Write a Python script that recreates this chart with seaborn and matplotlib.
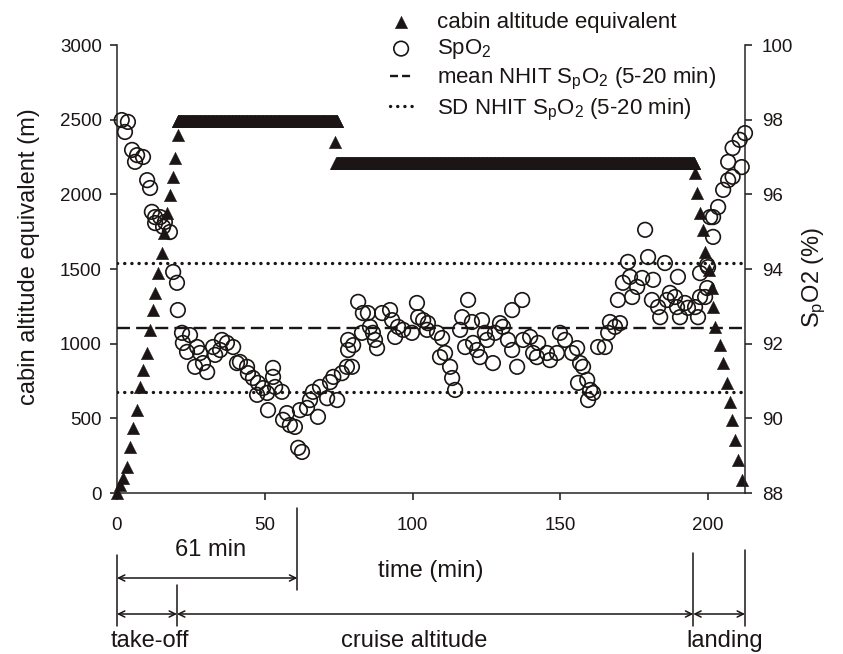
import numpy as np
import pandas as pd
import matplotlib
matplotlib.use("Agg")
import matplotlib.pyplot as plt
import matplotlib.transforms as mtransforms
from matplotlib.lines import Line2D
import seaborn as sns

# ---------------- data ----------------
climb_time = [0, 1.0, 2.0, 3.4, 4.4, 5.4, 6.8, 7.8, 8.8, 10.2, 11.2, 12.2, 12.9,
              13.9, 15.2, 16.0, 16.9, 17.9, 18.9, 19.6, 20.6]
climb_alt = [0, 54, 100, 174, 308, 435, 556, 710, 824, 938, 1092, 1226, 1340,
             1474, 1608, 1740, 1875, 1996, 2117, 2244, 2398]
cruise1 = (20.6, 74.6, 2490)      # start, end, altitude (m)
step_time = [73.6]
step_alt = [2350]
cruise2 = (74.2, 195.4, 2210)
descent_time = [195.6, 196.3, 197.3, 198.3, 199.0, 200.2, 201.4, 201.7, 202.4,
                204.1, 205.1, 206.5, 207.5, 208.2, 209.2, 210.2, 211.5]
descent_alt = [2143, 2009, 1875, 1761, 1614, 1490, 1373, 1246, 1112,
               991, 871, 737, 610, 489, 355, 221, 87]

spo2_early = [(1.6, 97.99), (3.7, 97.94), (2.7, 97.67), (5.1, 97.19), (6.8, 97.05),
              (8.8, 97.00), (6.1, 96.87), (10.2, 96.38), (11.2, 96.17), (11.8, 95.53),
              (12.9, 95.39), (14.6, 95.39), (12.9, 95.23), (16.2, 95.26), (17.9, 94.99),
              (15.6, 95.13), (19.0, 93.92), (20.3, 93.63), (20.6, 92.90), (22.0, 92.29),
              (24.7, 92.23), (22.3, 92.02), (23.7, 91.78), (27.1, 91.91), (28.1, 91.75),
              (26.4, 91.38), (29.1, 91.48), (30.5, 91.24), (32.5, 91.91), (33.2, 91.70),
              (34.9, 91.83), (35.5, 92.10), (37.2, 92.02), (39.3, 91.91), (40.6, 91.48),
              (41.6, 91.51), (44.0, 91.38), (44.3, 91.21), (46.0, 91.08), (47.7, 90.95),
              (47.4, 90.63), (49.4, 90.81), (50.8, 90.68), (52.8, 91.35), (52.8, 91.11),
              (53.5, 90.84), (55.8, 90.71), (51.1, 90.22), (56.2, 89.96), (57.5, 90.14),
              (58.5, 89.82), (60.2, 89.77), (61.3, 89.21), (62.6, 89.10), (61.9, 90.22),
              (64.3, 90.28), (65.3, 90.49), (66.3, 90.71), (68.0, 90.04), (68.7, 90.84),
              (71.1, 90.54), (72.1, 90.97), (73.2, 91.11), (74.5, 90.49), (76.1, 91.21),
              (77.8, 91.38), (78.2, 91.83), (78.2, 92.10)]
spo2_mid = [(79.5, 91.38), (79.9, 91.96), (81.6, 93.12), (83.2, 92.82), (82.9, 92.29),
            (84.9, 92.82), (85.6, 92.45), (86.6, 92.29), (88.0, 91.88), (87.3, 92.10),
            (89.7, 92.82), (92.4, 92.90), (93.1, 92.63), (95.1, 92.45), (96.8, 92.37),
            (94.1, 92.18), (99.8, 92.29), (101.5, 93.09), (101.9, 92.71), (103.6, 92.63),
            (105.2, 92.55), (104.9, 92.37), (108.3, 92.29), (110.0, 92.15), (109.3, 91.64),
            (111.0, 91.75), (112.7, 91.38), (113.4, 91.08), (114.4, 90.76), (116.8, 92.71),
            (116.1, 92.37), (118.8, 93.17), (120.1, 92.58), (117.8, 91.91), (120.5, 92.02),
            (121.8, 91.83), (123.5, 92.63), (124.5, 92.29), (125.2, 92.10), (122.8, 91.64),
            (127.2, 91.48), (127.9, 92.29), (129.6, 92.55), (130.6, 92.45), (132.3, 92.10),
            (133.7, 92.90), (137.1, 93.17), (133.7, 91.83), (135.4, 91.38), (137.4, 92.10),
            (139.8, 92.18), (140.8, 91.75), (142.1, 91.64), (142.5, 92.02), (145.5, 91.75),
            (146.5, 91.56), (148.9, 91.75)]
spo2_late = [(149.9, 92.29), (151.6, 92.10), (154.0, 91.75), (155.7, 91.88), (156.7, 91.48),
             (157.7, 91.38), (156.0, 90.95), (159.1, 91.03), (160.1, 90.76), (161.1, 90.68),
             (159.4, 90.49), (162.8, 91.91), (165.1, 91.91), (166.2, 92.29), (166.8, 92.58),
             (168.5, 92.45), (170.2, 92.55), (169.5, 93.17), (171.2, 93.63), (173.6, 93.79),
             (172.9, 94.19), (176.0, 93.52), (174.3, 93.25), (177.7, 93.76), (178.7, 95.05),
             (179.7, 94.32), (181.4, 93.71), (181.0, 93.17), (183.1, 92.98), (183.8, 92.71),
             (185.4, 94.16), (186.1, 93.17), (187.1, 93.36), (188.8, 93.25), (189.8, 93.79),
             (189.5, 92.98), (190.5, 92.71), (192.2, 93.09), (193.2, 92.96), (195.6, 92.98),
             (196.6, 92.71), (197.3, 93.25), (199.0, 93.25), (199.7, 93.49), (197.3, 93.89),
             (199.7, 94.11), (200.0, 94.05), (201.7, 94.86), (200.7, 95.39), (201.7, 95.39),
             (203.4, 95.66), (205.1, 96.12), (206.8, 96.38), (208.3, 96.47), (206.8, 96.87),
             (208.3, 97.24), (210.7, 97.46), (211.4, 96.73), (212.5, 97.64)]

nhit_mean = 92.43
nhit_sd = 1.73

alt_ticks = [0, 500, 1000, 1500, 2000, 2500, 3000]
spo2_ticks = [88, 90, 92, 94, 96, 98, 100]
time_ticks = [0, 50, 100, 150, 200]
x_range = (0, 212.5)
phase_bounds = [0, 20.3, 195.0, 212.5]
phase_labels = ["take-off", "cruise altitude", "landing"]
first_hour = 61

# ---------------- frames ----------------
plateau1_t = np.arange(cruise1[0], cruise1[1], 0.15)
plateau2_t = np.arange(cruise2[0], cruise2[1], 0.15)
alt_df = pd.DataFrame({
    "time": list(climb_time) + list(plateau1_t) + step_time + list(plateau2_t) + descent_time,
    "alt": list(climb_alt) + [cruise1[2]] * len(plateau1_t) + step_alt
           + [cruise2[2]] * len(plateau2_t) + descent_alt,
})
spo2_all = spo2_early + spo2_mid + spo2_late
spo2_df = pd.DataFrame({"time": [p[0] for p in spo2_all],
                        "spo2": [p[1] for p in spo2_all]})

# ---------------- style ----------------
sns.set_style("ticks")
plt.rcParams["font.family"] = ["Liberation Sans", "DejaVu Sans"]
plt.rcParams["mathtext.fontset"] = "custom"
plt.rcParams["mathtext.rm"] = "Liberation Sans"
plt.rcParams["mathtext.it"] = "Liberation Sans:italic"
plt.rcParams["mathtext.default"] = "regular"
plt.rcParams["axes.linewidth"] = 1.1

W, H = 843, 654
fig = plt.figure(figsize=(W / 100, H / 100), dpi=100)
fig.patch.set_facecolor("white")
ax = fig.add_axes([117 / W, 1 - 493 / H, 628 / W, 448 / H])
ax2 = ax.twinx()

ink = "#1b1515"
mean_label = "mean NHIT S$_p$O$_2$ (5-20 min)"
sd_label = "SD NHIT S$_p$O$_2$ (5-20 min)"

sns.scatterplot(data=alt_df, x="time", y="alt", ax=ax, marker="^", s=80,
                color=ink, edgecolor=ink, linewidth=0.3, clip_on=False, zorder=3,
                label="cabin altitude equivalent", legend=False)
sns.scatterplot(data=spo2_df, x="time", y="spo2", ax=ax2, marker="o", s=110,
                facecolor="none", edgecolor=ink, linewidth=1.2, clip_on=False, zorder=4,
                label="SpO$_2$", legend=False)

ax2.axhline(nhit_mean, color=ink, lw=1.7, ls=(0, (5.5, 2.6)), zorder=2)
for sign in (1, -1):
    ax2.axhline(nhit_mean + sign * nhit_sd, color=ink, lw=2.4, ls=(0, (0.05, 2.1)),
                dash_capstyle="round", zorder=2)

ax.set_xlim(*x_range)
ax.set_ylim(alt_ticks[0], alt_ticks[-1])
ax2.set_ylim(spo2_ticks[0], spo2_ticks[-1])
ax.set_xticks(time_ticks)
ax.set_yticks(alt_ticks)
ax2.set_yticks(spo2_ticks)

for a in (ax, ax2):
    a.spines["top"].set_visible(False)
    a.tick_params(labelsize=13.5, length=5, width=1.1, direction="out", colors=ink)
ax.spines["right"].set_visible(False)
ax2.spines["left"].set_visible(False)
ax2.spines["bottom"].set_visible(False)
ax.tick_params(axis="x", pad=12)
ax.tick_params(axis="y", pad=6)
ax2.tick_params(axis="y", pad=7)

ax.set_ylabel("cabin altitude equivalent (m)", fontsize=17, color=ink)
ax.yaxis.set_label_coords(-0.122, 0.527)
ax2.set_ylabel("S$_p$O2 (%)", fontsize=17, color=ink)
ax2.yaxis.set_label_coords(1.088, 0.482)
ax.set_xlabel("time (min)", fontsize=17, color=ink)
ax.xaxis.set_label_coords(0.5, -0.15)

# ---------------- legend ----------------
h1, lab1 = ax.get_legend_handles_labels()
h2, lab2 = ax2.get_legend_handles_labels()
mean_handle = Line2D([], [], color=ink, lw=1.7, ls=(0, (3.4, 1.7)))
sd_handle = Line2D([], [], color=ink, lw=2.4, ls=(0, (0.05, 2.1)), dash_capstyle="round")
fig.legend(h1 + h2 + [mean_handle, sd_handle], lab1 + lab2 + [mean_label, sd_label],
           loc="upper left", bbox_to_anchor=(390 / W, 1 - 12 / H), frameon=False,
           fontsize=16, handlelength=1.0, handletextpad=1.1, labelspacing=0.2,
           borderpad=0, borderaxespad=0, scatterpoints=1, labelcolor=ink)

# ---------------- phase annotations ----------------
tr = mtransforms.blended_transform_factory(ax.transData, fig.transFigure)


def fy(py):
    return 1 - py / H


def vline(t, y0, y1):
    ax.plot([t, t], [fy(y0), fy(y1)], transform=tr, clip_on=False, color=ink, lw=1.1)


def darrow(t0, t1, py):
    ax.annotate("", xy=(t1, fy(py)), xytext=(t0, fy(py)),
                xycoords=tr, textcoords=tr,
                arrowprops=dict(arrowstyle="<->", lw=1.1, color=ink,
                                shrinkA=0, shrinkB=0, mutation_scale=11),
                annotation_clip=False)


vline(0, 555, 626)
vline(first_hour, 508, 590)
darrow(0, first_hour, 578)
ax.text(first_hour / 2 + 1, fy(550), f"{first_hour} min", transform=tr,
        ha="center", va="center", fontsize=17, color=ink)

vline(phase_bounds[1], 585, 626)
vline(phase_bounds[2], 553, 626)
vline(phase_bounds[3], 550, 626)
for i in range(3):
    darrow(phase_bounds[i], phase_bounds[i + 1], 614)
label_x = [(phase_bounds[0] + phase_bounds[1]) / 2 + 1,
           (phase_bounds[1] + phase_bounds[2]) / 2 - 7,
           (phase_bounds[2] + phase_bounds[3]) / 2 + 2]
for x, lab in zip(label_x, phase_labels):
    ax.text(x, fy(641), lab, transform=tr, ha="center", va="center",
            fontsize=17, color=ink)

fig.savefig("out.png", dpi=100)
